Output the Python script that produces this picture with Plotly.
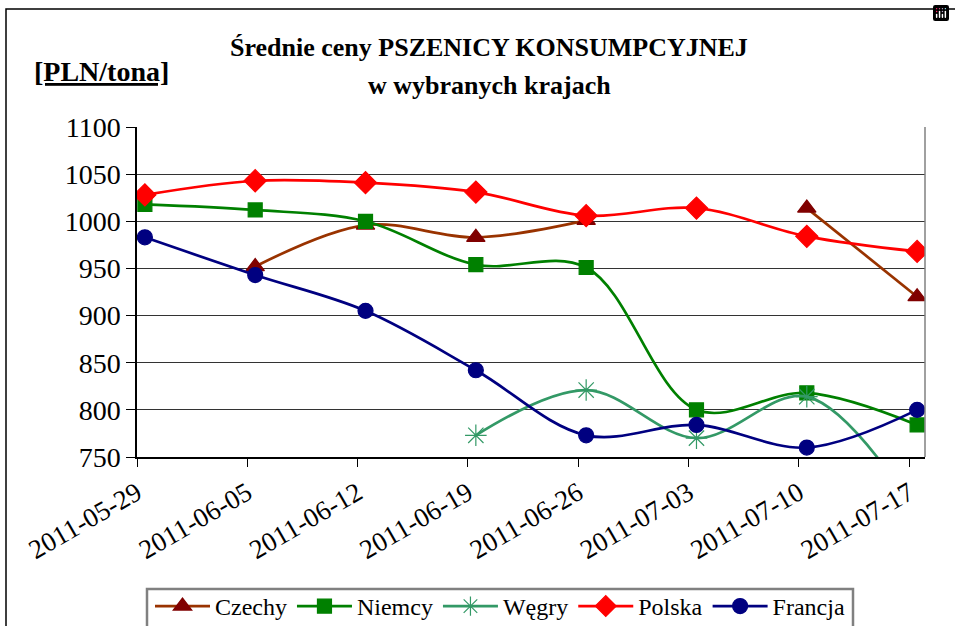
import plotly.graph_objects as go
import pandas as pd

dates = ["2011-05-29", "2011-06-05", "2011-06-12", "2011-06-19",
         "2011-06-26", "2011-07-03", "2011-07-10", "2011-07-17"]
tick_labels = dates

czechy = [None, 952, 996, 983, 1001, None, 1014, 920]
niemcy = [1018, 1012, 1000, 954, 951, 800, 818, 784]
wegry = [None, None, None, 773, 821, 770, 814, 690]
polska = [1028, 1043, 1041, 1031, 1006, 1014, 984, 968]
francja = [983, 943, 905, 842, 773, 784, 760, 800]

# points sit at the middle of the day on the date axis
xpts = [pd.Timestamp(d) + pd.Timedelta(hours=12) for d in dates]

FONT = "Liberation Serif"
FONT2 = "Times New Roman"

series = [
    ("Czechy", czechy, "#993300", "#800000", "triangle-up", 16),
    ("Niemcy", niemcy, "#008000", "#008000", "square", 14),
    ("Węgry", wegry, "#339966", "#339966", "asterisk-open", 18),
    ("Polska", polska, "#FF0000", "#FF0000", "diamond", 17),
    ("Francja", francja, "#000080", "#000080", "circle", 15),
]

fig = go.Figure()
for name, vals, lc, mc, sym, sz in series:
    fig.add_trace(go.Scatter(
        x=xpts, y=vals, name=name, mode="lines+markers",
        connectgaps=False,
        line=dict(color=lc, width=2.7, shape="spline", smoothing=1.0),
        marker=dict(symbol=sym, size=sz, color=mc,
                    line=dict(color=mc, width=1.2)),
    ))

PW, PH = 788, 330
def px(x):
    return (x - 137) / PW
def py(y):
    return (457 - y) / PH

fig.update_layout(
    width=955, height=626,
    paper_bgcolor="white", plot_bgcolor="white",
    margin=dict(l=137, r=30, t=127, b=169, autoexpand=False),
    font=dict(family="serif", color="black", size=22),
    showlegend=True,
    modebar=dict(bgcolor="rgba(0,0,0,0)", color="rgba(0,0,0,0)",
                 activecolor="rgba(0,0,0,0)"),
    legend=dict(orientation="h", x=px(150), y=py(584), xanchor="left", yanchor="top",
                borderwidth=0, bgcolor="rgba(0,0,0,0)",
                font=dict(family=FONT2, size=24), itemwidth=55,
                tracegroupgap=0),
)

fig.update_xaxes(
    type="date", range=["2011-05-29", "2011-07-18"],
    tickvals=dates, ticktext=tick_labels, tickangle=-30,
    ticks="outside", ticklen=8, tickcolor="black", tickwidth=1,
    showline=True, linecolor="black", linewidth=1.5,
    showgrid=False, zeroline=False, automargin=False,
    tickfont=dict(family=FONT, size=27),
)
fig.update_yaxes(
    range=[750, 1100], dtick=50, tick0=750,
    ticks="outside", ticklen=9, tickcolor="black",
    showline=True, linecolor="black", linewidth=1.5,
    showgrid=True, gridcolor="#333333", gridwidth=1,
    zeroline=False, automargin=False,
    tickfont=dict(family=FONT, size=28),
)

# right border of plot area
fig.add_shape(type="line", xref="paper", yref="paper", x0=1, x1=1, y0=0, y1=1,
              line=dict(color="#808080", width=1.5))
# outer chart frame
fig.add_shape(type="rect", xref="paper", yref="paper",
              x0=px(6), x1=px(965), y0=py(640), y1=py(9),
              line=dict(color="black", width=1.5), layer="below")
# legend frame
fig.add_shape(type="rect", xref="paper", yref="paper",
              x0=px(147), x1=px(853), y0=py(650), y1=py(589),
              line=dict(color="#808080", width=2.5), layer="below")

fig.add_annotation(text="<b>Średnie ceny PSZENICY KONSUMPCYJNEJ</b>",
                   xref="paper", yref="paper", x=px(489), y=py(48),
                   showarrow=False, font=dict(family=FONT, size=26),
                   xanchor="center", yanchor="middle")
fig.add_annotation(text="<b>w wybranych krajach</b>",
                   xref="paper", yref="paper", x=px(489), y=py(85),
                   showarrow=False, font=dict(family=FONT, size=26),
                   xanchor="center", yanchor="middle")
fig.add_annotation(text="<b><u>[PLN/tona]</u></b>",
                   xref="paper", yref="paper", x=px(101), y=py(72),
                   showarrow=False, font=dict(family=FONT2, size=28),
                   xanchor="center", yanchor="middle")

fig.write_html("out.html", post_script="document.body.style.margin='0';")
